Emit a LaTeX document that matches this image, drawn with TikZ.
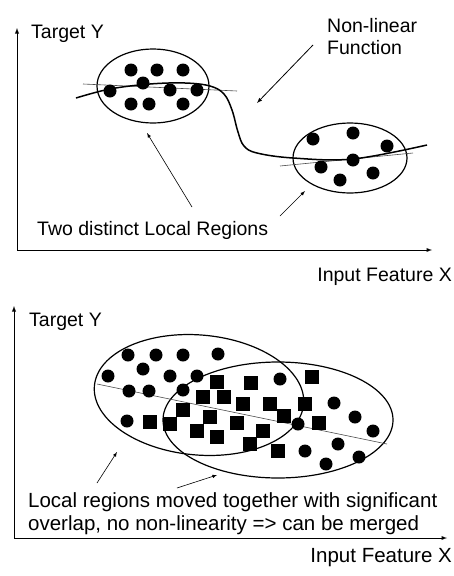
\documentclass[tikz,border=0pt]{standalone}
\usepackage{fontspec}
\setmainfont{Liberation Sans}
\tikzset{
  axis/.style={line width=0.9pt, -latex},
  region/.style={line width=1.2pt},
  fitline/.style={line width=0.6pt, color=black!70},
  pointer/.style={line width=0.6pt, -latex},
  lbl/.style={inner sep=0pt, font=\fontsize{19.5}{22}\selectfont}
}

\begin{document}
\begin{tikzpicture}[x=1pt, y=-1pt]
			\useasboundingbox[fill=white] (0,0) rectangle (454,576);
			%%%%% TOP PANEL %%%%%
			
			\coordinate (o1) at (17, 250);
			\coordinate (y1) at (17, 28);
			\coordinate (x1) at (432, 250);
			\draw[axis] (o1) -- (y1);
			\draw[axis] (o1) -- (x1);
			\node[lbl, anchor=west] (ty1) at (31, 34) {Target Y};
			\node[lbl, anchor=east] (fx1) at (452, 277) {Input Feature X};
			
			\node[lbl, anchor=west, align=left] (nl) at (327, 37) {Non-linear\\Function};
			\coordinate (nlA) at (313, 45);
			\coordinate (nlB) at (257, 103);
			\draw[pointer, line width=0.8pt] (nlA) -- (nlB);
			
			\draw[region] (153, 86) ellipse (56 and 37);
			\draw[region] (350, 158) ellipse (57 and 35);
			\draw[fitline] (83, 84) -- (237, 91);
			\draw[fitline] (280, 166) -- (413, 153);
			
			\draw[line width=1.5pt] plot[smooth, tension=0.6] coordinates {(76,98) (110,89) (150,84) (185,83) (210,86) (224,94) (232,110) (238,132) (244,146) (257,153) (293,158) (353,159) (427,145)};
			
			\foreach \x/\y in {131/70,157/70,183/70,143/83,110/91,170/90,197/90,131/104,149/104,183/104}
			  \fill (\x,\y) circle (6.5);
			\foreach \x/\y in {313/139,353/133,387/146,353/160,321/167,340/180,373/173}
			  \fill (\x,\y) circle (6.5);
			
			\node[lbl, anchor=west] (two) at (37, 230) {Two distinct Local Regions};
			\coordinate (tA) at (192, 207);
			\coordinate (tB) at (147, 133);
			\coordinate (tC) at (280, 216);
			\coordinate (tD) at (305, 191);
			\draw[pointer] (tA) -- (tB);
			\draw[pointer] (tC) -- (tD);
			
			%%%%% BOTTOM PANEL %%%%%
			
			\coordinate (o2) at (14, 538);
			\coordinate (y2) at (14, 306);
			\coordinate (x2) at (447, 538);
			\draw[axis] (o2) -- (y2);
			\draw[axis] (o2) -- (x2);
			\node[lbl, anchor=west] (ty2) at (29, 322) {Target Y};
			\node[lbl, anchor=east, font=\fontsize{20.5}{22}\selectfont] (fx2) at (452, 558) {Input Feature X};
			
			\draw[region, rotate around={-5:(199,395)}] (199, 395) ellipse (105 and 60);
			\draw[region] (278, 420) ellipse (115 and 58);
			\draw[fitline] (97, 384) -- (387, 444);
			
			\foreach \x/\y in {150/422,170/424,183/410,203/397,217/382,224/397,210/417,197/431,217/437,243/404,251/383,237/423,263/431,250/444,270/404,284/416,278/451,305/404,319/423,312/377}
			  \fill (\x-7,\y-7) rectangle (\x+7,\y+7);
			\foreach \x/\y in {128/355,156/355,183/355,218/354,143/369,170/376,197/376,108/376,129/391,149/391,183/390,280/379,127/421,298/424,334/403,355/417,373/431,338/444,359/457,305/451,326/464}
			  \fill (\x,\y) circle (6.5);
			
			\node[lbl, anchor=west, align=left, font=\fontsize{20.5}{23}\selectfont] (merge) at (28, 513.5) {Local regions moved together with significant\\overlap, no non-linearity => can be merged};
			\coordinate (mA) at (97, 483);
			\coordinate (mB) at (117, 452);
			\coordinate (mC) at (177, 488);
			\coordinate (mD) at (217, 475);
			\draw[pointer] (mA) -- (mB);
			\draw[pointer] (mC) -- (mD);
			
			%%%%% END %%%%%
\end{tikzpicture}
\end{document}
